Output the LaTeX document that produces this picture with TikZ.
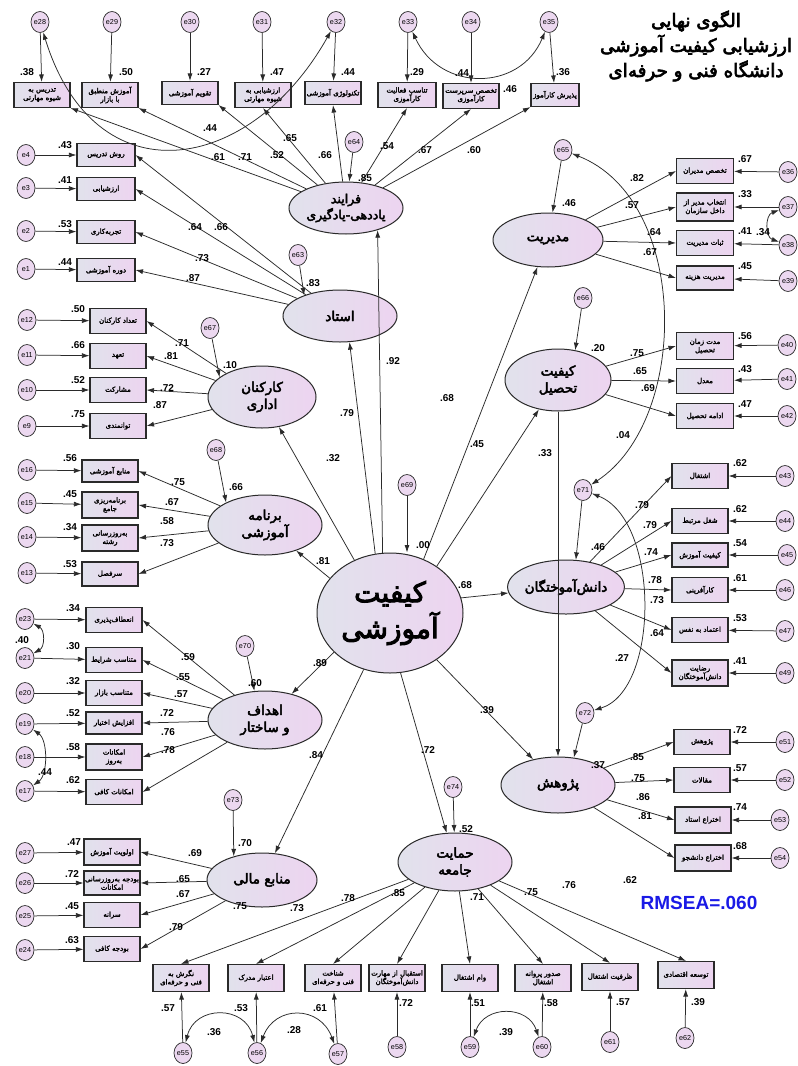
\documentclass[tikz,border=0pt]{standalone}
\usepackage{fontspec}
\setmainfont{Liberation Sans}
\newfontfamily\arf[Script=Arabic]{DejaVu Sans}
\newfontfamily\arfb[Script=Arabic,FakeBold=2.5]{DejaVu Sans}
\newfontfamily\arfbb[Script=Arabic,FakeBold=3.5]{DejaVu Sans}
\usetikzlibrary{shapes.geometric,arrows.meta}
\TeXXeTstate=1
\newcommand\fa[1]{\beginR #1\endR}
\newcommand\bxf{\arfb\fontsize{7}{8.4}\selectfont}
\newcommand\latf{\arfbb\fontsize{13.5}{17}\selectfont}
\newcommand\ef{\fontsize{7.2}{8}\selectfont}
\newcommand\lf{\fontsize{10}{11}\selectfont\bfseries}
\definecolor{latL}{HTML}{E1E2EC}
\definecolor{latR}{HTML}{EDD4F0}
\definecolor{errC}{HTML}{ECD8F0}
\definecolor{lineC}{HTML}{2A2A2A}
\definecolor{rmC}{HTML}{1A1AE6}
\begin{document}
\begin{tikzpicture}[x=1pt,y=-1pt,
 lat/.style={ellipse, draw=lineC, line width=1pt, left color=latL, right color=latR, inner sep=0pt, align=center, font=\latf},
 obs/.style={rectangle, draw=lineC, line width=1.1pt, left color=latL, right color=latR, minimum width=56pt, minimum height=25pt, inner sep=1pt, align=center, font=\bxf},
 err/.style={ellipse, draw=lineC, line width=0.7pt, fill=errC, minimum width=18pt, minimum height=21pt, inner sep=0pt, font=\ef},
 arr/.style={draw=lineC, line width=0.75pt, -{Latex[length=7.5pt,width=5pt]}},
 cov/.style={draw=lineC, line width=0.75pt, {Latex[length=7.5pt,width=5pt]}-{Latex[length=7.5pt,width=5pt]}},
 lab/.style={font=\lf, inner sep=0pt},
]
\fill[white] (0,0) rectangle (798,1066);
\useasboundingbox (0,0) rectangle (798,1066);

% title and fit index
\node[font=\arfbb\fontsize{18.3}{25}\selectfont, align=center] (title) at (696,46) {\fa{الگوی  نهایی}\\\fa{ارزشیابی کیفیت آموزشی}\\\fa{دانشگاه فنی و حرفه‌ای}};
\node[font=\fontsize{19}{20}\selectfont\bfseries, text=rmC] (rmsea) at (699,903) {RMSEA=.060};

% latent variables
\node[lat, minimum width=114, minimum height=52, font=\arfbb\fontsize{12.5}{16}\selectfont] (far) at (346,208) {\fa{فرایند}\\\fa{یاددهی-یادگیری}};
\node[lat, minimum width=114, minimum height=52] (ost) at (340,316) {\fa{استاد}};
\node[lat, minimum width=108, minimum height=62] (kar) at (262,397) {\fa{کارکنان}\\\fa{اداری}};
\node[lat, minimum width=114, minimum height=60] (bar) at (265,525) {\fa{برنامه}\\\fa{آموزشی}};
\node[lat, minimum width=114, minimum height=58] (ahd) at (265,720) {\fa{اهداف}\\\fa{و ساختار}};
\node[lat, minimum width=110, minimum height=54] (mal) at (262,880) {\fa{منابع مالی}};
\node[lat, minimum width=146, minimum height=120, font=\arfbb\fontsize{28}{36}\selectfont] (cen) at (390,613) {\fa{کیفیت}\\\fa{آموزشی}};
\node[lat, minimum width=114, minimum height=58] (hem) at (455,862) {\fa{حمایت}\\\fa{جامعه}};
\node[lat, minimum width=110, minimum height=54] (mod) at (548,240) {\fa{مدیریت}};
\node[lat, minimum width=106, minimum height=62] (tah) at (558,380) {\fa{کیفیت}\\\fa{تحصیل}};
\node[lat, minimum width=116, minimum height=54] (dan) at (566,587) {\fa{دانش‌آموختگان}};
\node[lat, minimum width=114, minimum height=56] (paz) at (558,785) {\fa{پژوهش}};

% observed variables: top row
\node[obs] (b28) at (42,95) {\fa{تدریس به}\\\fa{شیوه مهارتی}};
\node[obs] (b29) at (110,95) {\fa{آموزش منطبق}\\\fa{با بازار}};
\node[obs, minimum height=23] (b30) at (190,93) {\fa{تقویم آموزشی}};
\node[obs] (b31) at (263,95) {\fa{ارزشیابی به}\\\fa{شیوه مهارتی}};
\node[obs, minimum height=23] (b32) at (333,93) {\fa{تکنولوژی آموزشی}};
\node[obs, minimum width=58] (b33) at (407,95) {\fa{تناسب فعالیت}\\\fa{کارآموزی}};
\node[obs] (b34) at (471,96) {\fa{تخصص سرپرست}\\\fa{کارآموزی}};
\node[obs, minimum width=48, minimum height=23] (b35) at (555,95) {\fa{پذیرش کارآموز}};
% ostad
\node[obs, minimum width=58, minimum height=23] (b4) at (106,155) {\fa{روش تدریس}};
\node[obs, minimum width=58, minimum height=23] (b3) at (106,189) {\fa{ارزشیابی}};
\node[obs, minimum width=58, minimum height=23] (b2) at (106,232) {\fa{تجربه‌کاری}};
\node[obs, minimum width=58, minimum height=23] (b1) at (106,270) {\fa{دوره آموزشی}};
% karkonan
\node[obs] (b12) at (118,321) {\fa{تعداد کارکنان}};
\node[obs] (b11) at (118,356) {\fa{تعهد}};
\node[obs] (b10) at (118,390) {\fa{مشارکت}};
\node[obs] (b9) at (118,426) {\fa{توانمندی}};
% barname
\node[obs, minimum height=22] (b16) at (110,471) {\fa{منابع آموزشی}};
\node[obs, minimum height=26] (b15) at (110,505) {\fa{برنامه‌ریزی}\\\fa{جامع}};
\node[obs, minimum height=26] (b14) at (110,538) {\fa{به‌روزرسانی}\\\fa{رشته}};
\node[obs, minimum height=24] (b13) at (110,574) {\fa{سرفصل}};
% ahdaf
\node[obs] (b23) at (114,620) {\fa{انعطاف‌پذیری}};
\node[obs] (b21) at (114,660) {\fa{متناسب شرایط}};
\node[obs] (b20) at (114,693) {\fa{متناسب بازار}};
\node[obs, minimum height=22] (b19) at (114,723) {\fa{افزایش اختیار}};
\node[obs, minimum height=26] (b18) at (114,757) {\fa{امکانات}\\\fa{به‌روز}};
\node[obs] (b17) at (114,792) {\fa{امکانات کافی}};
% mali
\node[obs, minimum height=26] (b27) at (112,852) {\fa{اولویت آموزش}};
\node[obs, minimum height=24] (b26) at (112,883) {\fa{بودجه به‌روزرسانی}\\\fa{امکانات}};
\node[obs] (b25) at (112,915) {\fa{سرانه}};
\node[obs] (b24) at (112,949) {\fa{بودجه کافی}};
% hemayat (bottom)
\node[obs, minimum height=27] (b55) at (181,978) {\fa{نگرش به}\\\fa{فنی و حرفه‌ای}};
\node[obs, minimum height=27] (b56) at (256,978) {\fa{اعتبار مدرک}};
\node[obs, minimum height=27] (b57) at (333,978) {\fa{شناخت}\\\fa{فنی و حرفه‌ای}};
\node[obs, minimum height=27] (b58) at (397,978) {\fa{استقبال از مهارت}\\\fa{دانش‌آموختگان}};
\node[obs, minimum height=27] (b59) at (470,978) {\fa{وام اشتغال}};
\node[obs, minimum height=27] (b60) at (543,978) {\fa{صدور پروانه}\\\fa{اشتغال}};
\node[obs, minimum height=27] (b61) at (610,977) {\fa{ظرفیت اشتغال}};
\node[obs, minimum height=27] (b62) at (686,975) {\fa{توسعه اقتصادی}};
% modiriat
\node[obs, minimum width=57] (b36) at (705,171) {\fa{تخصص مدیران}};
\node[obs, minimum width=57, minimum height=28] (b37) at (705,207) {\fa{انتخاب مدیر از}\\\fa{داخل سازمان}};
\node[obs, minimum width=57] (b38) at (705,243) {\fa{ثبات مدیریت}};
\node[obs, minimum width=57, minimum height=24] (b39) at (705,278) {\fa{مدیریت هزینه}};
% tahsil
\node[obs, minimum width=57, minimum height=27] (b40) at (705,346) {\fa{مدت زمان}\\\fa{تحصیل}};
\node[obs, minimum width=57] (b41) at (705,381) {\fa{معدل}};
\node[obs, minimum width=57] (b42) at (705,416) {\fa{ادامه تحصیل}};
% daneshamukhtegan
\node[obs] (b43) at (700,476) {\fa{اشتغال}};
\node[obs] (b44) at (700,521) {\fa{شغل مرتبط}};
\node[obs, minimum height=24] (b45) at (700,555) {\fa{کیفیت آموزش}};
\node[obs] (b46) at (700,590) {\fa{کارآفرینی}};
\node[obs] (b47) at (700,630) {\fa{اعتماد به نفس}};
\node[obs, minimum height=26] (b49) at (700,673) {\fa{رضایت}\\\fa{دانش‌آموختگان}};
% pazhuhesh
\node[obs] (b51) at (702,742) {\fa{پژوهش}};
\node[obs] (b52) at (702,780) {\fa{مقالات}};
\node[obs, minimum height=26] (b53) at (703,820) {\fa{اختراع استاد}};
\node[obs, minimum height=26] (b54) at (703,858) {\fa{اختراع دانشجو}};

% error terms
\foreach \n/\x/\y in {e28/40/22,e29/112/22,e30/190/22,e31/262/22,e32/336/22,e33/408/22,e34/471/22,e35/549/22,
 e4/26/155,e3/26/188,e2/26/231,e1/26/269,e12/27/320,e11/27/355,e10/27/390,e9/27/426,
 e16/27/470,e15/27/503,e14/27/537,e13/27/573,e23/25/619,e21/25/658,e20/25/693,e19/25/724,e18/25/757,e17/25/791,
 e27/25/853,e26/25/883,e25/25/916,e24/25/950,
 e55/183/1053,e56/257/1053,e57/338/1054,e58/397/1047,e59/470/1047,e60/542/1047,e61/610/1042,e62/685/1038,
 e36/788/172,e37/788/207,e38/788/245,e39/788/281,e40/787/345,e41/787/379,e42/787/416,
 e43/785/476,e44/785/521,e45/787/555,e46/785/590,e47/785/631,e49/785/673,
 e51/785/742,e52/785/780,e53/780/820,e54/780/858,
 e64/354/142,e63/298/255,e67/210/328,e68/216/450,e70/245/646,e73/233/800,e69/407/485,e74/453/787,
 e65/563/150,e66/583/298,e71/583/490,e72/585/713}
 \node[err] (\n) at (\x,\y) {\n};

% error -> indicator arrows
\foreach \i in {1,2,3,4,9,10,11,12,13,14,15,16,17,18,19,20,21,23,24,25,26,27,28,29,30,31,32,33,34,35,36,37,38,39,40,41,42,43,44,45,46,47,49,51,52,53,54,55,56,57,58,59,60,61,62}
 \draw[arr] (e\i) -- (b\i);

% latent -> indicators
\foreach \i/\a in {28/south east,29/south east,30/south east,31/south,32/south,33/south,34/south,35/south west}
 \draw[arr] (far) -- (b\i.\a);
\foreach \i in {1,2,3,4} \draw[arr] (ost) -- (b\i.east);
\foreach \i in {9,10,11,12} \draw[arr] (kar) -- (b\i.east);
\foreach \i in {13,14,15,16} \draw[arr] (bar) -- (b\i.east);
\foreach \i in {17,18,19,20,21,23} \draw[arr] (ahd) -- (b\i.east);
\foreach \i in {24,25,26,27} \draw[arr] (mal) -- (b\i.east);
\foreach \i in {55,56,57,58,59,60,61,62} \draw[arr] (hem) -- (b\i.north);
\foreach \i in {36,37,38,39} \draw[arr] (mod) -- (b\i.west);
\foreach \i in {40,41,42} \draw[arr] (tah) -- (b\i.west);
\foreach \i in {43,44,45,46,47,49} \draw[arr] (dan) -- (b\i.west);
\foreach \i in {51,52,53,54} \draw[arr] (paz) -- (b\i.west);

% central -> latents
\draw[arr] (cen.97) -- (far.-35);
\draw[arr] (cen.104) -- (ost.-70);
\draw[arr] (cen.124) -- (kar);
\draw[arr] (cen.150) -- (bar);
\draw[arr] (cen.215) -- (ahd);
\draw[arr] (cen.245) -- (mal);
\draw[arr] (cen.280) -- (hem);
\draw[arr] (cen.315) -- (paz);
\draw[arr] (cen.12) -- (dan);
\draw[arr] (cen.45) -- (tah);
\draw[arr] (cen.58) -- (mod);
\draw[arr] (tah) -- (paz);

% disturbances
\draw[arr] (e64) -- (far);
\draw[arr] (e63) -- (ost.150);
\draw[arr] (e67) -- (kar.155);
\draw[arr] (e68) -- (bar.150);
\draw[arr] (e70) -- (ahd.110);
\draw[arr] (e73) -- (mal.140);
\draw[arr] (e69) -- (e69 |- cen.north);
\draw[arr] (e74) -- (hem);
\draw[arr] (e65) -- (mod);
\draw[arr] (e66) -- (tah.60);
\draw[arr] (e71) -- (dan.70);
\draw[arr] (e72) -- (paz.60);

% covariances
\draw[cov] (e28) .. controls (95,200) and (250,175) .. (e32);
\draw[cov] (e33) .. controls (440,92) and (520,92) .. (e35);
\draw[cov] (e65) .. controls (690,200) and (690,420) .. (e71);
\draw[cov] (e71) .. controls (660,520) and (660,690) .. (e72);
\draw[cov] (e37) .. controls (765,215) and (765,237) .. (e38);
\draw[cov] (e23) .. controls (45,630) and (45,647) .. (e21);
\draw[cov] (e19) .. controls (48,740) and (48,775) .. (e17);
\draw[cov] (e55) .. controls (195,1005) and (245,1005) .. (e56);
\draw[cov] (e56) .. controls (275,1005) and (320,1005) .. (e57);
\draw[cov] (e59) .. controls (485,1005) and (528,1005) .. (e60);

% labels
\foreach \n/\x/\y/\t in {
 r28/27/72/.38, r29/126/72/.50, r30/204/72/.27, r31/277/72/.47, r32/348/72/.44, r33/417/72/.29, r34/510/89/.46, r35/563/72/.36,
 c2832/210/128/.44, c3335/462/73/.44,
 lf28/218/157/.61, lf29/245/157/.71, lf30/277/155/.52, lf31/290/138/.65, lf32/325/155/.66, lf33/387/146/.54, lf34/425/150/.67, lf35/474/150/.60,
 d64/365/178/.85,
 r4/65/145/.43, r3/65/180/.41, r2/65/224/.53, r1/65/262/.44,
 lo4/221/227/.66, lo3/195/227/.64, lo2/202/258/.73, lo1/193/278/.87, d63/313/283/.83,
 r12/78/309/.50, r11/78/345/.66, r10/78/380/.52, r9/78/414/.75,
 lk12/182/343/.71, lk11/171/356/.81, lk10/167/388/.72, lk9/160/405/.87, d67/230/365/.10,
 r16/70/458/.56, r15/70/494/.45, r14/70/527/.34, r13/70/564/.53,
 lb16/178/482/.75, lb15/172/502/.67, lb14/167/521/.58, lb13/167/543/.73, d68/236/487/.66,
 r23/73/608/.34, r21/73/646/.30, r20/73/681/.32, r19/73/713/.52, r18/73/747/.58, r17/73/780/.62,
 c2321/22/640/.40, c1917/45/772/.44,
 la23/188/657/.59, la21/183/677/.55, la20/181/694/.57, la19/167/713/.72, la18/168/732/.76, la17/168/750/.78, d70/255/683/.60,
 r27/74/842/.47, r26/72/874/.72, r25/72/906/.45, r24/72/940/.63,
 lm27/195/853/.69, lm26/183/879/.65, lm25/183/894/.67, lm24/176/927/.79, d73/245/843/.70,
 r55/168/1008/.57, r56/241/1008/.53, r57/320/1008/.61, r58/406/1003/.72, r59/478/1003/.51, r60/551/1003/.58, r61/623/1002/.57, r62/698/1002/.39,
 c5556/214/1032/.36, c5657/294/1030/.28, c5960/506/1032/.39,
 lh55/240/906/.75, lh56/297/908/.73, lh57/348/898/.78, lh58/398/893/.85, lh59/477/897/.71, lh60/531/892/.75, lh61/569/885/.76, lh62/630/880/.62,
 d74/466/829/.52,
 r36/745/159/.67, r37/745/194/.33, r38/745/231/.41, r39/745/266/.45, c3738/763/232/.34,
 lm36/637/178/.82, lm37/632/205/.57, lm38/654/232/.64, lm39/650/252/.67, d65/569/203/.46,
 r40/745/336/.56, r41/745/369/.43, r42/745/404/.47,
 lt40/637/353/.75, lt41/640/371/.65, lt42/648/388/.69, d66/598/348/.20,
 c6571/623/435/.04, l33/545/453/.33,
 r43/740/463/.62, r44/740/509/.62, r45/740/543/.54, r46/740/578/.61, r47/740/618/.53, r49/740/661/.41,
 ld43/642/505/.79, ld44/650/525/.79, ld45/651/552/.74, ld46/655/580/.78, ld47/657/600/.73, ld49/657/633/.64, d71/598/547/.46,
 c7172/622/658/.27,
 r51/740/730/.72, r52/740/768/.57, r53/740/807/.74, r54/740/846/.68,
 lp51/637/757/.85, lp52/638/778/.75, lp53/643/797/.86, lp54/645/816/.81, d72/598/765/.37,
 lc1/393/361/.92, lc2/347/413/.79, lc3/333/458/.32, lc4/323/561/.81, lc5/320/663/.89, lc6/316/755/.84,
 lc7/428/750/.72, lc8/487/710/.39, lc9/465/585/.68, lc10/477/444/.45, lc11/447/398/.68, d69/423/545/.00}
 \node[lab] (\n) at (\x,\y) {\t};
\end{tikzpicture}
\end{document}
